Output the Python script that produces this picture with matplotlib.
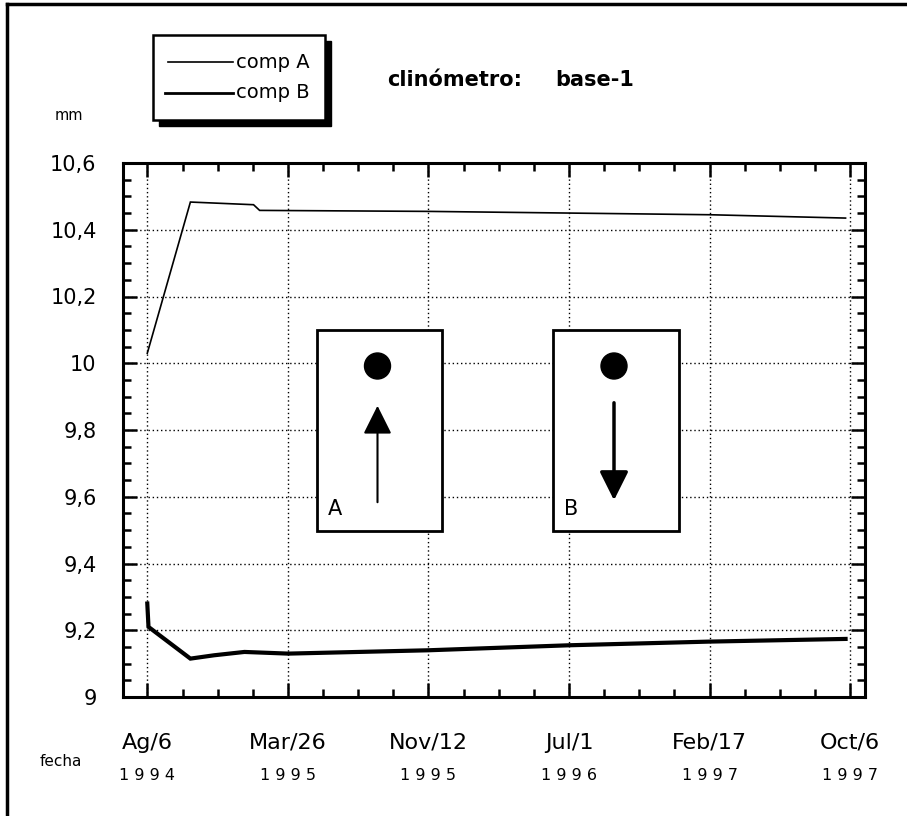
import matplotlib
matplotlib.use("Agg")
import matplotlib.pyplot as plt
from matplotlib.patches import Rectangle, Ellipse, FancyArrowPatch
from matplotlib.lines import Line2D
from matplotlib.ticker import MultipleLocator, FixedLocator

plt.rcParams['font.family'] = ['DejaVu Sans']

# ---- data (days since Ag/6 1994) ----
tick_days = [0, 232, 463, 695, 926, 1157]
tick_months = ["Ag/6", "Mar/26", "Nov/12", "Jul/1", "Feb/17", "Oct/6"]
tick_years = ["1994", "1995", "1995", "1996", "1997", "1997"]

a_days = [0, 71, 175, 185, 463, 926, 1150]
a_vals = [10.03, 10.483, 10.475, 10.458, 10.455, 10.445, 10.435]

b_days = [0, 2, 71, 110, 160, 232, 463, 695, 926, 1150]
b_vals = [9.28, 9.21, 9.115, 9.125, 9.135, 9.13, 9.14, 9.155, 9.166, 9.174]

y_ticks = [9.0, 9.2, 9.4, 9.6, 9.8, 10.0, 10.2, 10.4, 10.6]
y_labels = ["9", "9,2", "9,4", "9,6", "9,8", "10", "10,2", "10,4", "10,6"]

W, H = 907, 816
fig = plt.figure(figsize=(W / 100, H / 100), dpi=100)

def fx(px):
    return px / W

def fy(py):
    return 1 - py / H

ax = fig.add_axes([fx(123), fy(697), fx(865) - fx(123), fy(163) - fy(697)])
ax.plot(a_days, a_vals, color='black', lw=1.2, solid_joinstyle='miter', zorder=3)
ax.plot(b_days, b_vals, color='black', lw=3.0, solid_joinstyle='miter', zorder=3)

ax.set_xlim(-40, 1182)
ax.set_ylim(9.0, 10.6)
ax.xaxis.set_major_locator(FixedLocator(tick_days))
minor = []
for i in range(len(tick_days) - 1):
    step = (tick_days[i + 1] - tick_days[i]) / 4
    minor += [tick_days[i] + step * k for k in (1, 2, 3)]
ax.xaxis.set_minor_locator(FixedLocator(minor))
ax.set_xticklabels([])
ax.set_yticks(y_ticks)
ax.set_yticklabels(y_labels, fontsize=15)
ax.yaxis.set_minor_locator(MultipleLocator(0.05))
ax.tick_params(which='both', direction='in', top=True, right=True, width=1.8, color='black')
ax.tick_params(which='major', length=10)
ax.tick_params(which='minor', length=6)
ax.tick_params(axis='y', pad=19)
for s in ax.spines.values():
    s.set_linewidth(2.2)
ax.grid(True, which='major', linestyle=(0, (1, 2)), color='black', lw=1.0)

# x labels (two lines)
tr = matplotlib.transforms.blended_transform_factory(ax.transData, ax.transAxes)
for d, m, yv in zip(tick_days, tick_months, tick_years):
    ax.text(d, (697 - 743) / 534, m, transform=tr, ha='center', va='center', fontsize=16)
    ax.text(d, (697 - 775) / 534, " ".join(yv), transform=tr, ha='center', va='center', fontsize=11.5)

fig.text(fx(40), fy(762), "fecha", fontsize=11, ha='left', va='center')
fig.text(fx(55), fy(115), "mm", fontsize=10.5, ha='left', va='center')

# outer frame (top and left)
fig.add_artist(Line2D([fx(7), fx(907)], [fy(4), fy(4)], color='black', lw=2.5, transform=fig.transFigure))
fig.add_artist(Line2D([fx(7), fx(7)], [fy(4), fy(816)], color='black', lw=2.5, transform=fig.transFigure))

# legend box with shadow
fig.add_artist(Rectangle((fx(159), fy(126)), fx(325) - fx(153), fy(35) - fy(120),
                         transform=fig.transFigure, facecolor='black', edgecolor='black', lw=1))
fig.add_artist(Rectangle((fx(153), fy(120)), fx(325) - fx(153), fy(35) - fy(120),
                         transform=fig.transFigure, facecolor='white', edgecolor='black', lw=1.8))
fig.add_artist(Line2D([fx(168), fx(233)], [fy(62), fy(62)], color='black', lw=1.2, transform=fig.transFigure))
fig.add_artist(Line2D([fx(165), fx(233)], [fy(93), fy(93)], color='black', lw=2.0, transform=fig.transFigure))
fig.text(fx(236), fy(62), "comp A", fontsize=14, ha='left', va='center')
fig.text(fx(236), fy(93), "comp B", fontsize=14, ha='left', va='center')

fig.text(fx(387), fy(80), "clinómetro:", fontsize=15, fontweight='bold', ha='left', va='center')
fig.text(fx(555), fy(80), "base-1", fontsize=15, fontweight='bold', ha='left', va='center')

# inset boxes
def inset(x0, x1, label, up):
    fig.add_artist(Rectangle((fx(x0), fy(531)), fx(x1) - fx(x0), fy(330) - fy(531),
                             transform=fig.transFigure, facecolor='white', edgecolor='black', lw=2.0, zorder=5))
    cx = (x0 + x1) / 2 - 2
    fig.add_artist(Ellipse((fx(cx), fy(366)), 26 / W, 26 / H, transform=fig.transFigure,
                           facecolor='black', edgecolor='black', zorder=6))
    if up:
        y_start, y_end = 505, 403
    else:
        y_start, y_end = 400, 503
    fig.add_artist(FancyArrowPatch(
        (fx(cx), fy(y_start)), (fx(cx), fy(y_end)), transform=fig.transFigure,
        arrowstyle='-|>,head_length=8,head_width=4', mutation_scale=2.2,
        color='black', lw=1.5 if up else 2.5, zorder=6))
    fig.text(fx(x0 + 18), fy(509), label, fontsize=15, ha='center', va='center', zorder=7)

inset(317, 442, "A", True)
inset(553, 679, "B", False)

fig.savefig("out.png", dpi=100)
